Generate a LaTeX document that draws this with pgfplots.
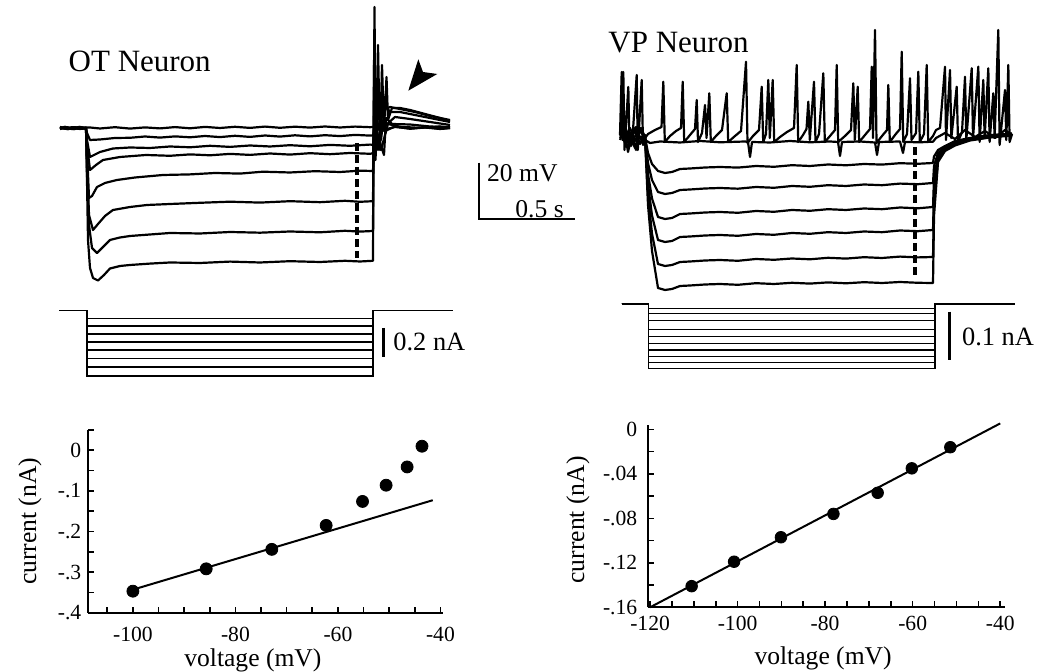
\documentclass[border=0pt]{standalone}
\usepackage{pgfplots}
\pgfplotsset{compat=1.18}
\usepackage{fontspec}
\setmainfont{Liberation Serif}
\tikzset{trace/.style={black,line width=1.1pt,line join=round},
         cur/.style={black,line width=0.75pt},
         bar/.style={black,line width=1.2pt}}
\pgfplotsset{ivaxis/.style={scale only axis,anchor=south west,
  axis lines=left, axis line style={-,line width=1pt},
  x axis line style={-}, y axis line style={-},
  tick align=inside, major tick length=3pt, minor tick length=3pt,
  every tick/.style={black,line width=0.8pt},
  tick label style={font=\fontsize{10.8}{12}\selectfont},
  label style={font=\fontsize{12.8}{14}\selectfont},
  clip=false}}
\begin{document}
\begin{tikzpicture}
\useasboundingbox (0,0) rectangle (518.5pt,336pt);
% ---------------- overlay in reference pixel units (traces) ----------------
\begin{axis}[at={(0pt,0pt)},anchor=south west,scale only axis,width=518.5pt,height=336pt,
  xmin=0,xmax=1037,ymin=0,ymax=672,y dir=reverse,hide axis,clip=false]
% ===== OT neuron voltage traces =====
\addplot[trace] coordinates {(60,127)(66,128.5)(72,127.2)(78,128.8)(86,127.5)(90,127.5)(100,128.5)(115,127.2)(130,128.6)(145,127.4)(160,128.4)(175,127.1)(190,128.3)(205,126.9)(220,128)(235,126.8)(250,127.9)(265,126.6)(280,127.8)(295,126.7)(310,127.6)(325,126.5)(340,127.5)(355,126.6)(370,127.2)(373,127)(376,127.5)(385,129.5)(395,127)(410,128.5)(425,127.3)(440,128.6)(450,127.8)};
\addplot[trace] coordinates {(60,129)(67,127.4)(74,129.2)(81,127.6)(86,128.8)(87,133)(90,140)(100,139.5)(115,138)(130,137.8)(145,136.5)(160,137.6)(175,136.4)(190,137.3)(205,136)(220,137.1)(235,135.8)(250,136.9)(265,135.5)(280,136.6)(295,135.3)(310,136.4)(325,135.2)(340,136.1)(355,134.9)(370,135.6)(373,135.3)(375,128)(385,131)(395,126.5)(410,128.8)(425,127.5)(440,129)(450,128.2)};
\addplot[trace] coordinates {(60,128)(65,126.8)(71,128.9)(79,127)(86,128)(87,140)(90,157)(100,152)(113,148.5)(130,147.5)(150,148)(170,146.5)(190,147.3)(210,145.8)(230,146.9)(250,145.5)(270,146.5)(290,145.2)(310,146.3)(330,144.9)(350,145.8)(370,144.6)(373,144.8)(375,125)(381,150)(388,124)(400,126.8)(420,127.9)(440,126.5)(450,127.5)};
\addplot[trace] coordinates {(60,127.5)(68,129.2)(75,127.3)(82,128.9)(86,128)(87,145)(90,170)(96,165)(103,160)(120,157)(146,155)(170,155.8)(190,154.4)(210,155.3)(230,153.9)(250,154.9)(270,153.5)(290,154.6)(310,153.2)(330,154.2)(350,153)(370,153.8)(373,153.3)(375,122)(379,140)(384,155)(386,118)(392,124)(410,124.5)(430,126.5)(450,127.2)};
\addplot[trace] coordinates {(60,128.6)(66,127.1)(73,128.4)(80,126.9)(86,128.2)(87,150)(89,198)(92,196)(97,187)(105,183)(117,180)(135,177.5)(163,175)(190,174.4)(215,173)(240,173.6)(263,171.7)(290,172.5)(315,171.2)(340,172)(360,170.7)(373,171)(375,115)(378,150)(382,112)(386,125)(395,117)(410,119)(430,122)(450,125)};
\addplot[trace] coordinates {(60,127.8)(67,129)(74,127.1)(81,128.5)(86,127.6)(87,160)(89,215)(93,230)(98,224)(105,216)(113,210)(130,207)(147,205)(175,203.8)(200,202.8)(230,201.7)(260,202.6)(290,201.2)(320,202.2)(345,200.8)(360,201.8)(373,201.2)(374,100)(376,150)(379,95)(381,140)(385,105)(390,112)(400,112)(420,116)(440,120)(450,122)};
\addplot[trace] coordinates {(60,128.3)(66,127.4)(72,129.1)(79,127.5)(86,128.4)(87,175)(89,225)(92,248)(97,253)(103,247)(110,240)(120,237.5)(130,236)(150,234.5)(170,233)(200,233.5)(230,232)(260,232.7)(290,231.5)(320,232.3)(345,230.8)(360,231.6)(373,231)(374,60)(376,145)(378,45)(380,150)(382,65)(384,130)(386.5,77)(388,120)(392,108)(400,108)(410,110)(425,114)(440,118)(450,121)};
\addplot[trace] coordinates {(60,127.6)(67,128.8)(73,127.4)(80,129)(86,127.9)(87,180)(88,240)(90,268)(93,278)(98,280.5)(104,275)(110,268.5)(120,266)(130,265)(150,263.6)(170,262.5)(200,263)(230,261.6)(260,262.5)(290,261.2)(320,262)(345,260.8)(360,261.5)(373,260.8)(373.5,150)(374.5,7)(375.5,160)(377,120)(379,130)(383,110)(390,107)(400,109)(415,112)(430,116)(450,120)};
\addplot[black,line width=1.6pt,dash pattern=on 4pt off 2pt] coordinates {(357,143)(357,258)};
\fill (axis cs:408.3,90.7) -- (axis cs:418.3,59.3) -- (axis cs:423,72) -- (axis cs:437.3,74) -- cycle;
% ===== VP neuron voltage traces =====
\addplot[trace] coordinates {(620,135)(621.7,72)(622.5,140)(623.3,72)(624.5,150)(628.3,87)(629.5,145)(633,130)(636.7,75)(637.8,150)(641.7,80)(643,145)(645,138)(648,134)(655,130)(661.5,127)(663.3,81.7)(664.8,142)(670,136)(676,131)(681,128)(682.7,81.7)(684.2,142)(690,135)(695,129)(696.7,100)(698,142)(702,133)(705,105)(706.5,138)(709.3,93.3)(710.8,142)(716,136)(722,130)(726.7,93.3)(728.2,142)(735,136)(741,131)(746,61.7)(747.5,143)(753,136)(759,130)(761.7,86.7)(763.2,142)(766,134)(768.3,80)(769.8,138)(772.7,80)(774.2,142)(780,137)(787,132)(794,128)(796.7,65)(798.2,142)(803,135)(806.5,129)(808.3,101.7)(809.8,140)(814,81.7)(815.5,142)(819,134)(823.3,73.3)(824.8,142)(830,136)(835,130)(836.7,65)(838.2,142)(845,136)(851,130)(853.3,83.3)(854.8,140)(857.7,86.7)(859.2,142)(865,135)(870,129)(871.7,66.7)(873,138)(875,30)(876.5,143)(882,136)(887,130)(888.3,85)(889.8,142)(895,135)(900,129)(901.7,51.7)(903.2,142)(907,134)(910,78.3)(911.5,140)(916,133)(918.3,71.7)(919.8,142)(924,134)(926.7,65)(928.2,142)(933,136)(936,130)(940,128)(945,66.7)(946,140)(950,70)(951.3,138)(956.7,86.7)(958,142)(962,132)(965,76.7)(966.3,140)(971.7,68.3)(973,138)(978.3,66.7)(979.6,142)(983.3,80)(984.6,138)(988.3,68.3)(989.6,142)(993.3,93.3)(994.6,138)(998.3,30)(999.6,145)(1005,90)(1006.3,140)(1008.3,65)(1009.6,142)(1012,134)};
\addplot[trace] coordinates {(620,140)(624,128)(628,152)(632,135)(636,150)(640,128)(645,140)(650,143)(660,141.5)(680,142.5)(700,141)(720,142.3)(745,141.5)(748,142)(750,157)(752,142)(770,142.5)(790,141)(810,142.3)(830,141.5)(838,142)(840,156)(842,142)(860,141.5)(875,142.5)(877,155)(879,142)(900,141.5)(903,153)(905,142)(920,142.3)(933,141.7)(936,138)(945,133)(955,139)(965,130)(975,137)(985,131)(995,138)(1005,130)(1012,135)};
\addplot[trace] coordinates {(620,133)(625,139)(630,128)(635,141)(640,131)(645,137)(648,153)(652,164)(658,171)(665,173)(672,172)(680,169)(690,168.5)(705,167.5)(720,167)(738,167.6)(756,166)(774,166.8)(792,165.2)(810,166)(828,164.5)(846,165.3)(864,164)(882,164.6)(900,163.2)(918,163.8)(933,163)(934,156.5)(938,150)(945,146)(955,141)(970,138)(990,135)(1012,134)};
\addplot[trace] coordinates {(620,130)(626,142)(631,133)(636,127)(641,140)(645,136)(648,163)(652,180)(658,192)(665,194)(672,193)(680,190)(690,189.5)(705,188.5)(720,188)(738,188.7)(756,187)(774,187.8)(792,186)(810,186.8)(828,185.2)(846,186)(864,184.5)(882,185.2)(900,183.6)(918,184.2)(933,183)(934,166)(938,153)(945,147)(955,142)(970,138.5)(990,135.5)(1012,133.5)};
\addplot[trace] coordinates {(620,138)(624,130)(629,145)(634,131)(639,138)(645,135)(648,174)(652,198.5)(658,217)(665,219)(672,218)(680,214)(690,213.5)(705,212.5)(720,212)(738,212.8)(756,211)(774,211.8)(792,210)(810,210.8)(828,209.2)(846,210)(864,208.5)(882,209.2)(900,207.5)(918,208.3)(933,207)(934,178)(938,156)(945,148)(955,143)(970,139)(990,136)(1012,134)};
\addplot[trace] coordinates {(620,131)(625,136)(630,142)(635,129)(640,144)(645,137)(648,184)(652,215.5)(658,240)(665,242)(672,241)(680,237)(690,236.5)(705,235.5)(720,235)(738,235.8)(756,234)(774,234.8)(792,233)(810,233.8)(828,232.2)(846,233)(864,231.5)(882,232.2)(900,230.5)(918,231.2)(933,230)(934,190)(938,158)(945,149)(955,144)(970,139.5)(990,136.5)(1012,134.5)};
\addplot[trace] coordinates {(620,136)(626,129)(631,146)(636,134)(641,128)(645,137)(648,195)(652,233.8)(658,264)(665,266)(672,265)(680,262)(690,261.5)(705,260.5)(720,260)(738,260.8)(756,259)(774,259.8)(792,258.5)(810,259.3)(828,257.8)(846,258.6)(864,257.2)(882,258)(900,256.6)(918,257.4)(933,257)(934,203)(938,160)(945,150)(955,145)(970,140)(990,137)(1012,135)};
\addplot[trace] coordinates {(620,129)(625,143)(630,136)(635,148)(640,130)(645,138)(648,205)(652,251)(658,288)(665,290)(672,289)(680,286)(690,285.5)(705,284.5)(720,284)(738,284.8)(756,283.2)(774,284)(792,282.8)(810,283.6)(828,282.4)(846,283.3)(864,282.2)(882,283)(900,282)(918,282.8)(933,283)(934,216)(938,162)(945,151)(955,145.5)(970,140.5)(990,137.5)(1012,135.5)};
\addplot[black,line width=1.6pt,dash pattern=on 4pt off 2pt] coordinates {(915,147)(915,277)};
% ===== current steps =====
\foreach \L in {318.5,326,334,342,350,358.5,367,376}{
  \addplot[cur] coordinates {(59.3,310.7)(87,310.7)(87,\L)(373,\L)(373,310.7)(453,310.7)};
}
\foreach \L in {308.3,313.3,320.7,329.3,336.7,343.3,350,356.7,362.7,368.3}{
  \addplot[cur] coordinates {(621.7,304)(648.3,304)(648.3,\L)(935,\L)(935,304)(1015,304)};
}
% ===== scale bars and titles =====
\addplot[bar] coordinates {(479,162.7)(479,219.3)(575,219.3)};
\addplot[bar,line width=1.3pt] coordinates {(383.3,328)(383.3,357)};
\addplot[bar,line width=1.3pt] coordinates {(949.3,311.7)(949.3,360)};
\node[anchor=west,inner sep=0pt,font=\fontsize{15.5}{18}\selectfont] at (axis cs:68.3,61.7) {OT Neuron};
\node[anchor=west,inner sep=0pt,font=\fontsize{15.5}{18}\selectfont] at (axis cs:608,43) {VP Neuron};
\node[anchor=west,inner sep=0pt,font=\fontsize{12.8}{15}\selectfont] at (axis cs:486.7,173.3) {20 mV};
\node[anchor=west,inner sep=0pt,font=\fontsize{12.8}{15}\selectfont] at (axis cs:515,209) {0.5 s};
\node[anchor=west,inner sep=0pt,font=\fontsize{13.2}{15}\selectfont] at (axis cs:393,341.7) {0.2 nA};
\node[anchor=west,inner sep=0pt,font=\fontsize{13.2}{15}\selectfont] at (axis cs:961.7,336.7) {0.1 nA};
\end{axis}
% ---------------- OT I-V plot ----------------
\begin{axis}[ivaxis,at={(44.15pt,29.65pt)},width=177.35pt,height=91.35pt,
  xmin=-108.7,xmax=-39.5,ymin=-0.4,ymax=0.05,
  xtick={-100,-80,-60,-40},xticklabels={-100,-80,-60,-40},
  minor xtick={-105,-100,...,-40},
  ytick={-0.4,-0.3,-0.2,-0.1,0},yticklabels={-.4,-.3,-.2,-.1,0},
  minor ytick={-0.35,-0.25,-0.15,-0.05,0.05},
  xticklabel style={yshift=-3.5pt},
  xlabel={voltage (mV)},ylabel={current (nA)},
  xlabel style={at={(axis description cs:0.464,-0.259)},anchor=center},
  ylabel style={at={(axis description cs:-0.1644,0.5)},anchor=center}]
\addplot[black,line width=1pt] coordinates {(-101,-0.347)(-41.5,-0.123)};
\addplot[only marks,mark=*,mark size=3pt,black] coordinates {(-100,-0.347)(-85.7,-0.292)(-72.9,-0.244)(-62.3,-0.185)(-55.2,-0.126)(-50.6,-0.086)(-46.5,-0.041)(-43.6,0.010)};
\end{axis}
% ---------------- VP I-V plot ----------------
\begin{axis}[ivaxis,at={(324.15pt,32.35pt)},width=178.35pt,height=91.15pt,
  xmin=-120.4,xmax=-38.9,ymin=-0.16,ymax=0.004,
  xtick={-120,-100,-80,-60,-40},xticklabels={-120,-100,-80,-60,-40},
  minor xtick={-115,-110,...,-40},
  ytick={-0.16,-0.12,-0.08,-0.04,0},yticklabels={-.16,-.12,-.08,-.04,0},
  minor ytick={-0.14,-0.10,-0.06,-0.02},
  xticklabel style={yshift=-1pt},yticklabel style={xshift=-2pt},
  xlabel={voltage (mV)},ylabel={current (nA)},
  xlabel style={at={(axis description cs:0.49,-0.278)},anchor=center},
  ylabel style={at={(axis description cs:-0.197,0.479)},anchor=center}]
\addplot[black,line width=1pt] coordinates {(-120,-0.16)(-40,0.0054)};
\addplot[only marks,mark=*,mark size=2.9pt,black] coordinates {(-110.5,-0.141)(-100.8,-0.119)(-90.1,-0.097)(-78.1,-0.076)(-68.0,-0.057)(-60.2,-0.035)(-51.4,-0.016)};
\end{axis}
\end{tikzpicture}
\end{document}
